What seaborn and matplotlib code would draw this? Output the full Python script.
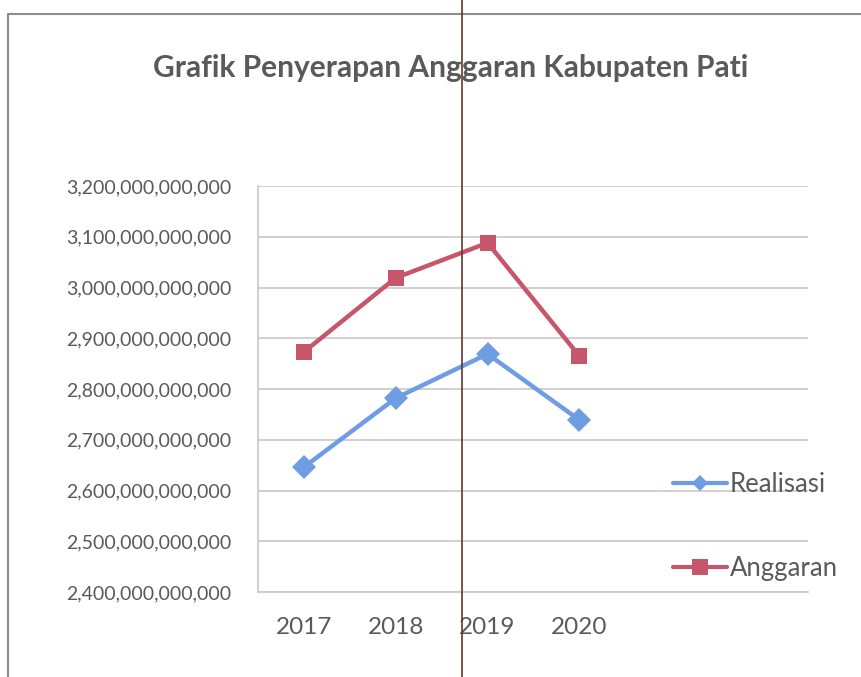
import matplotlib
matplotlib.use("Agg")
import matplotlib.pyplot as plt
import seaborn as sns
import pandas as pd
from matplotlib.lines import Line2D
from matplotlib.ticker import FuncFormatter

years = ["2017", "2018", "2019", "2020"]
realisasi = [2646e9, 2782e9, 2869e9, 2739e9]
anggaran = [2873e9, 3019e9, 3088e9, 2865e9]
series_names = ["Realisasi", "Anggaran"]
title = "Grafik Penyerapan Anggaran Kabupaten Pati"

sns.set_theme(style="white")
plt.rcParams["font.family"] = ["Lato", "DejaVu Sans"]

BLUE = "#6F9DE3"
RED = "#C8566A"
TXT = "#5A5A5A"

df = pd.DataFrame({
    "idx": list(range(len(years))) * 2,
    "value": realisasi + anggaran,
    "series": [series_names[0]] * len(years) + [series_names[1]] * len(years),
})

W, H = 861, 677
fig = plt.figure(figsize=(W / 100, H / 100), dpi=100)
ax = fig.add_axes([258 / W, 1 - 592 / H, (808 - 258) / W, (592 - 186) / H])

sns.lineplot(data=df, x="idx", y="value", hue="series", style="series",
             palette={"Realisasi": BLUE, "Anggaran": RED},
             markers={"Realisasi": "D", "Anggaran": "s"}, dashes=False,
             linewidth=3.2, markersize=12, markeredgewidth=0, ax=ax, legend=False)

ax.set_ylim(2.4e12, 3.2e12)
ax.set_yticks([2.4e12 + i * 1e11 for i in range(9)])
ax.yaxis.set_major_formatter(FuncFormatter(lambda v, p: f"{v:,.0f}"))
ax.set_xlim(-0.5, 5.49)
ax.set_xticks(range(len(years)))
ax.set_xticklabels(years)
ax.set_xlabel("")
ax.set_ylabel("")
ax.grid(axis="y", color="#C8C8C8", linewidth=1.2)
ax.set_axisbelow(True)
for s in ["top", "right"]:
    ax.spines[s].set_visible(False)
for s in ["left", "bottom"]:
    ax.spines[s].set_color("#C8C8C8")
    ax.spines[s].set_linewidth(1.2)
ax.tick_params(axis="y", labelsize=14, colors=TXT, pad=19, length=0)
ax.tick_params(axis="x", labelsize=17.5, colors=TXT, pad=18, length=0)

fig.text((153 + 748) / 2 / W, 1 - 68 / H, title, ha="center", va="center",
         fontsize=21.5, fontweight="bold", color=TXT)

handles = [Line2D([], [], color=BLUE, lw=3, marker="D", markersize=8, markeredgewidth=0),
           Line2D([], [], color=RED, lw=3, marker="s", markersize=11, markeredgewidth=0)]
leg = fig.legend(handles, series_names, loc="upper left",
                 bbox_to_anchor=(650 / W, 1 - 449 / H), frameon=False,
                 fontsize=18.5, labelcolor=TXT, handlelength=2.1, handletextpad=0.1,
                 labelspacing=2.3)

# frame and scan line
fig.add_artist(Line2D([8 / W, 1], [1 - 14 / H, 1 - 14 / H], color="#8C8C8C", lw=1.5))
fig.add_artist(Line2D([8 / W, 8 / W], [0, 1 - 14 / H], color="#8C8C8C", lw=1.5))
fig.add_artist(Line2D([462 / W, 462 / W], [0, 1], color="#5C3A2E", lw=1.2))

fig.savefig("out.png", dpi=100)
